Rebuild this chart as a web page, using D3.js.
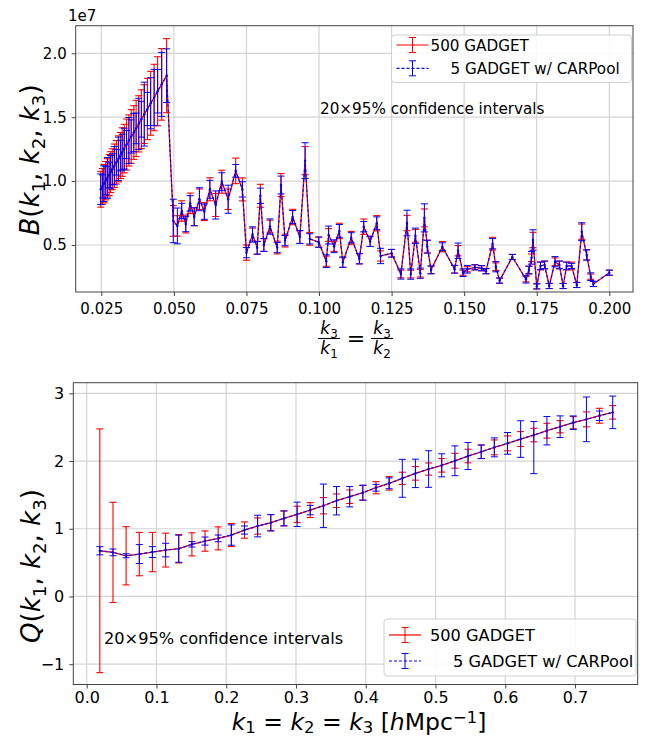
<!DOCTYPE html>
<html><head><meta charset="utf-8">
<script src="https://cdn.jsdelivr.net/npm/d3@7"></script>
<style>body{margin:0;background:#fff} svg{display:block} text{font-family:"DejaVu Sans",sans-serif;fill:#000}</style>
</head><body><svg id="c" width="647" height="737"></svg>
<script>
// ---------------- TOP PANEL DATA (B in units of 1e7) ----------------
const topRatio = [0.0248,0.0254,0.0259,0.0265,0.0271,0.0277,0.0282,0.0288,0.0295,0.0302,0.0309,0.0316,0.0322,0.0329,0.0337,0.0345,0.0353,0.0362,0.0370,0.0379,0.0388,0.0398,0.0409,0.0420,0.0432,0.0444,0.0458,0.0475,
 0.0498,0.0512,0.0527,0.0541,0.0556,0.0570,0.0588,0.0605,0.0624,0.0644,0.0665,0.0687,0.0713,0.0736,0.0750,0.0771,0.0787,0.0798,0.0810,0.0831,0.0856,0.0869,0.0883,0.0909,0.0934,0.0952,0.0968,0.0999,0.1025,0.1033,0.1052,0.1070,0.1082,0.1111,0.1139,0.1154,0.1176,0.1199,0.1212,0.1250,0.1282,0.1303,0.1316,0.1332,0.1349,0.1363,0.1373,0.1386,0.1425,0.1467,0.1479,0.1496,0.1511,0.1537,0.1560,0.1575,0.1598,0.1609,0.1622,0.1666,0.1713,0.1723,0.1732,0.1737,0.1750,0.1763,0.1777,0.1793,0.1813,0.1828,0.1841,0.1853,0.1870,0.1888,0.1905,0.1922,0.1936,0.1945,0.2000];
const topB = [0.936,0.958,0.980,1.003,1.025,1.048,1.070,1.093,1.120,1.147,1.174,1.200,1.227,1.254,1.286,1.318,1.349,1.380,1.412,1.448,1.484,1.524,1.564,1.609,1.654,1.703,1.757,1.825,
 0.688,0.649,0.766,0.664,0.826,0.721,0.858,0.761,0.936,0.813,0.995,0.858,1.080,0.935,0.440,0.582,0.478,0.885,0.500,0.644,0.480,0.969,0.534,0.719,0.562,1.160,0.548,0.522,0.373,0.578,0.490,0.610,0.365,0.556,0.392,0.643,0.528,0.670,0.414,0.435,0.273,0.672,0.272,0.572,0.279,0.712,0.487,0.305,0.487,0.310,0.455,0.283,0.310,0.325,0.318,0.295,0.510,0.330,0.221,0.406,0.232,0.304,0.400,0.539,0.176,0.336,0.344,0.179,0.369,0.344,0.179,0.336,0.336,0.187,0.604,0.422,0.252,0.195,0.283];
const topErrGadget = [0.14,0.14,0.15,0.15,0.15,0.16,0.16,0.16,0.17,0.17,0.18,0.18,0.19,0.19,0.20,0.20,0.21,0.21,0.22,0.22,0.23,0.23,0.24,0.25,0.26,0.27,0.28,0.29,
 0.12,0.08,0.08,0.07,0.08,0.07,0.08,0.07,0.09,0.09,0.09,0.08,0.10,0.09,0.06,0.05,0.05,0.09,0.05,0.05,0.05,0.09,0.05,0.06,0.05,0.11,0.05,0.04,0.04,0.05,0.04,0.06,0.04,0.05,0.04,0.06,0.04,0.06,0.04,0.03,0.03,0.06,0.03,0.05,0.03,0.07,0.05,0.03,0.04,0.03,0.04,0.02,0.02,0.02,0.02,0.02,0.05,0.03,0.02,0.02,0.02,0.03,0.03,0.06,0.02,0.03,0.03,0.02,0.03,0.03,0.02,0.03,0.03,0.02,0.06,0.04,0.02,0.02,0.02];
const topErrCarpool = [0.12,0.09,0.14,0.11,0.16,0.10,0.13,0.12,0.15,0.10,0.17,0.12,0.14,0.16,0.11,0.18,0.13,0.15,0.12,0.20,0.14,0.25,0.13,0.20,0.22,0.17,0.25,0.21,
 0.17,0.14,0.06,0.06,0.06,0.07,0.09,0.06,0.07,0.11,0.07,0.11,0.05,0.06,0.04,0.06,0.05,0.06,0.05,0.06,0.04,0.07,0.04,0.05,0.05,0.14,0.04,0.04,0.05,0.07,0.05,0.05,0.04,0.04,0.04,0.04,0.04,0.05,0.06,0.03,0.04,0.10,0.04,0.06,0.04,0.11,0.05,0.03,0.03,0.03,0.06,0.03,0.03,0.02,0.02,0.02,0.04,0.04,0.02,0.02,0.03,0.03,0.05,0.08,0.02,0.03,0.03,0.02,0.04,0.03,0.02,0.03,0.02,0.02,0.07,0.04,0.03,0.02,0.02];
const topXTicks = [0.025,0.050,0.075,0.100,0.125,0.150,0.175,0.200];
const topYTicks = [0.5,1.0,1.5,2.0];

// ---------------- BOTTOM PANEL DATA ----------------
const kEq = [0.0188,0.0377,0.0565,0.0754,0.0942,0.1131,0.1319,0.1508,0.1696,0.1885,0.2073,0.2262,0.2450,0.2639,0.2827,0.3016,0.3204,0.3393,0.3581,0.3770,0.3958,0.4147,0.4335,0.4524,0.4712,0.4901,0.5089,0.5278,0.5466,0.5655,0.5843,0.6032,0.6220,0.6409,0.6597,0.6786,0.6974,0.7163,0.7351,0.7540];
const Q = [0.675,0.651,0.601,0.626,0.656,0.685,0.705,0.770,0.818,0.858,0.907,0.981,1.040,1.089,1.153,1.213,1.276,1.340,1.414,1.473,1.532,1.606,1.671,1.745,1.818,1.882,1.937,2.004,2.074,2.137,2.202,2.261,2.325,2.384,2.448,2.507,2.566,2.616,2.669,2.719];
const qErrGadget = [1.80,0.74,0.43,0.32,0.29,0.25,0.21,0.17,0.15,0.17,0.17,0.12,0.12,0.12,0.11,0.12,0.11,0.12,0.10,0.10,0.11,0.09,0.10,0.09,0.10,0.09,0.10,0.11,0.10,0.10,0.11,0.11,0.11,0.10,0.11,0.09,0.09,0.11,0.11,0.10];
const qErrCarpoolLo = [0.06,0.05,0.03,0.14,0.08,0.10,0.20,0.04,0.06,0.05,0.15,0.06,0.16,0.12,0.11,0.18,0.07,0.32,0.21,0.15,0.11,0.05,0.08,0.28,0.21,0.27,0.17,0.22,0.20,0.10,0.14,0.16,0.27,0.57,0.21,0.16,0.10,0.33,0.07,0.24];
const qErrCarpoolHi = [0.06,0.05,0.03,0.14,0.08,0.10,0.20,0.04,0.06,0.05,0.15,0.06,0.16,0.12,0.11,0.18,0.07,0.32,0.21,0.15,0.11,0.05,0.08,0.28,0.21,0.27,0.17,0.22,0.20,0.10,0.14,0.16,0.27,0.20,0.21,0.16,0.10,0.33,0.07,0.24];
const botXTicks = [0.0,0.1,0.2,0.3,0.4,0.5,0.6,0.7];
const botYTicks = [-1,0,1,2,3];

const legendLabels = ["500 GADGET", "5 GADGET w/ CARPool"];
const noteText = "20×95% confidence intervals";

const RED = "#ff0000", BLUE = "#0000ff";
const svg = d3.select("#c");

function panel(o){
  const g = svg.append("g");
  const x = d3.scaleLinear().domain(o.xDom).range([o.l, o.r]);
  const y = d3.scaleLinear().domain(o.yDom).range([o.b, o.t]);
  g.selectAll(".gx").data(o.xTicks).enter().append("line")
    .attr("x1", d=>x(d)).attr("x2", d=>x(d)).attr("y1", o.t).attr("y2", o.b)
    .attr("stroke", "#d4d4d4").attr("stroke-width", 1.2);
  g.selectAll(".gy").data(o.yTicks).enter().append("line")
    .attr("y1", d=>y(d)).attr("y2", d=>y(d)).attr("x1", o.l).attr("x2", o.r)
    .attr("stroke", "#d4d4d4").attr("stroke-width", 1.2);
  const idx = d3.range(o.xs.length);
  const cap = 3.5;
  function errbars(lo, hi, color, w){
    const eg = g.append("g").attr("stroke", color).attr("stroke-width", w).attr("fill","none");
    idx.forEach(i=>{
      const xi = x(o.xs[i]), y0 = y(o.ys[i]-lo[i]), y1 = y(o.ys[i]+hi[i]);
      eg.append("line").attr("x1",xi).attr("x2",xi).attr("y1",y0).attr("y2",y1);
      eg.append("line").attr("x1",xi-cap).attr("x2",xi+cap).attr("y1",y0).attr("y2",y0);
      eg.append("line").attr("x1",xi-cap).attr("x2",xi+cap).attr("y1",y1).attr("y2",y1);
    });
  }
  const line = d3.line().x(i=>x(o.xs[i])).y(i=>y(o.ys[i]));
  errbars(o.redErr, o.redErr, RED, 1.1);
  g.append("path").attr("d", line(idx)).attr("fill","none").attr("stroke", RED).attr("stroke-width", 1.3);
  errbars(o.blueLo, o.blueHi, BLUE, 1.0);
  g.append("path").attr("d", line(idx)).attr("fill","none").attr("stroke", BLUE).attr("stroke-width", 1.1).attr("stroke-dasharray","3,2");
  g.selectAll(".pt").data(idx).enter().append("circle")
    .attr("cx", i=>x(o.xs[i])).attr("cy", i=>y(o.ys[i])).attr("r", 1.2).attr("fill", BLUE);
  g.append("rect").attr("x", o.l).attr("y", o.t).attr("width", o.r-o.l).attr("height", o.b-o.t)
    .attr("fill","none").attr("stroke","#444").attr("stroke-width",1);
  const ax = g.append("g").attr("transform", `translate(0,${o.b})`)
    .call(d3.axisBottom(x).tickValues(o.xTicks).tickSize(4).tickPadding(o.xPad).tickFormat(o.xFmt));
  const ay = g.append("g").attr("transform", `translate(${o.l},0)`)
    .call(d3.axisLeft(y).tickValues(o.yTicks).tickSize(4).tickPadding(5).tickFormat(o.yFmt));
  [ax, ay].forEach(a=>{
    a.select(".domain").remove();
    a.selectAll("line").attr("stroke","#444");
    a.selectAll("text").attr("font-family","DejaVu Sans").attr("font-size", o.tickFs).attr("fill","#000");
  });
  return {g, x, y};
}

function legend(g, bx, by, bw, bh, row1y, row2y, textX1, textX2, fs){
  g.append("rect").attr("x",bx).attr("y",by).attr("width",bw).attr("height",bh).attr("rx",3)
    .attr("fill","#fff").attr("fill-opacity",0.85).attr("stroke","#d0d0d0").attr("stroke-width",1);
  const hx0 = bx+5, hx1 = bx+37, hc = (hx0+hx1)/2;
  [[row1y, RED, null, legendLabels[0], textX1],[row2y, BLUE, "3,2", legendLabels[1], textX2]].forEach(([yy,c,dash,lab,tx])=>{
    g.append("line").attr("x1",hx0).attr("x2",hx1).attr("y1",yy).attr("y2",yy).attr("stroke",c).attr("stroke-width",1.2).attr("stroke-dasharray",dash);
    g.append("line").attr("x1",hc).attr("x2",hc).attr("y1",yy-7.5).attr("y2",yy+7.5).attr("stroke",c).attr("stroke-width",1);
    g.append("line").attr("x1",hc-3.5).attr("x2",hc+3.5).attr("y1",yy-7.5).attr("y2",yy-7.5).attr("stroke",c).attr("stroke-width",1);
    g.append("line").attr("x1",hc-3.5).attr("x2",hc+3.5).attr("y1",yy+7.5).attr("y2",yy+7.5).attr("stroke",c).attr("stroke-width",1);
    g.append("text").attr("x",tx).attr("y",yy+fs*0.37).attr("font-size",fs).text(lab);
  });
}

function mathLabel(sel, parts, fs, subK, supK){
  subK = subK || 0.22; supK = supK || 0.34;
  let cur = 0;
  parts.forEach(([t, it, sh])=>{
    const target = sh===1 ? fs*subK : sh===-1 ? -fs*supK : 0;
    sel.append("tspan").attr("dy", target-cur).text(t)
      .attr("font-style", it ? "italic" : "normal")
      .attr("font-size", sh ? fs*0.7 : fs);
    cur = target;
  });
}

// ---------- TOP ----------
const fmt3 = d3.format(".3f"), fmt1 = d3.format(".1f");
panel({l:75.7, r:633, t:25.7, b:292, xDom:[0.01618,0.20816], yDom:[0.132,2.216],
  xs: topRatio, ys: topB, redErr: topErrGadget, blueLo: topErrCarpool, blueHi: topErrCarpool,
  xTicks: topXTicks, yTicks: topYTicks, xFmt: fmt3, yFmt: fmt1, tickFs: 15, xPad: 7});
svg.append("text").attr("x",68).attr("y",21).attr("font-size",15).text("1e7");
legend(svg, 391.5, 35, 240, 47.5, 45, 68.3, 430.5, 450.5, 15.2);
svg.append("text").attr("x",320).attr("y",114).attr("font-size",15.2).text(noteText);
const yl1 = svg.append("text").attr("transform","translate(39,160) rotate(-90)").attr("text-anchor","middle");
mathLabel(yl1, [["B",1,0],["(",0,0],["k",1,0],["1",0,1],[", ",0,0],["k",1,0],["2",0,1],[", ",0,0],["k",1,0],["3",0,1],[")",0,0]], 26);
function frac(cx, num, numSub, den, denSub){
  const a = svg.append("text").attr("x",cx).attr("y",334).attr("text-anchor","middle");
  mathLabel(a, [[num,1,0],[numSub,0,1]], 17);
  svg.append("line").attr("x1",cx-11).attr("x2",cx+11).attr("y1",338.5).attr("y2",338.5).attr("stroke","#000").attr("stroke-width",1.1);
  const b = svg.append("text").attr("x",cx).attr("y",354).attr("text-anchor","middle");
  mathLabel(b, [[den,1,0],[denSub,0,1]], 17);
}
frac(329, "k","3","k","1");
svg.append("text").attr("x",356).attr("y",345.5).attr("text-anchor","middle").attr("font-size",22).text("=");
frac(382, "k","3","k","2");

// ---------- BOTTOM ----------
const minusFmt = d=> d<0 ? "\u2212"+Math.abs(d) : String(d);
panel({l:73.3, r:637.7, t:382.7, b:684.5, xDom:[-0.0192,0.7898], yDom:[-1.300,3.157],
  xs: kEq, ys: Q, redErr: qErrGadget, blueLo: qErrCarpoolLo, blueHi: qErrCarpoolHi,
  xTicks: botXTicks, yTicks: botYTicks, xFmt: fmt1, yFmt: minusFmt, tickFs: 16, xPad: 3});
legend(svg, 384, 619, 252, 57, 635, 661, 430, 453, 16.2);
svg.append("text").attr("x",104).attr("y",644).attr("font-size",16.2).text(noteText);
const yl2 = svg.append("text").attr("transform","translate(40,566) rotate(-90)").attr("text-anchor","middle");
mathLabel(yl2, [["Q",1,0],["(",0,0],["k",1,0],["1",0,1],[", ",0,0],["k",1,0],["2",0,1],[", ",0,0],["k",1,0],["3",0,1],[")",0,0]], 26);
const xl2 = svg.append("text").attr("x",359).attr("y",729.5).attr("text-anchor","middle");
mathLabel(xl2, [["k",1,0],["1",0,1],[" = ",0,0],["k",1,0],["2",0,1],[" = ",0,0],["k",1,0],["3",0,1],[" [",0,0],["h",1,0],["Mpc",0,0],["\u22121",0,-1],["]",0,0]], 23.5, 0.14, 0.26);
</script></body></html>
